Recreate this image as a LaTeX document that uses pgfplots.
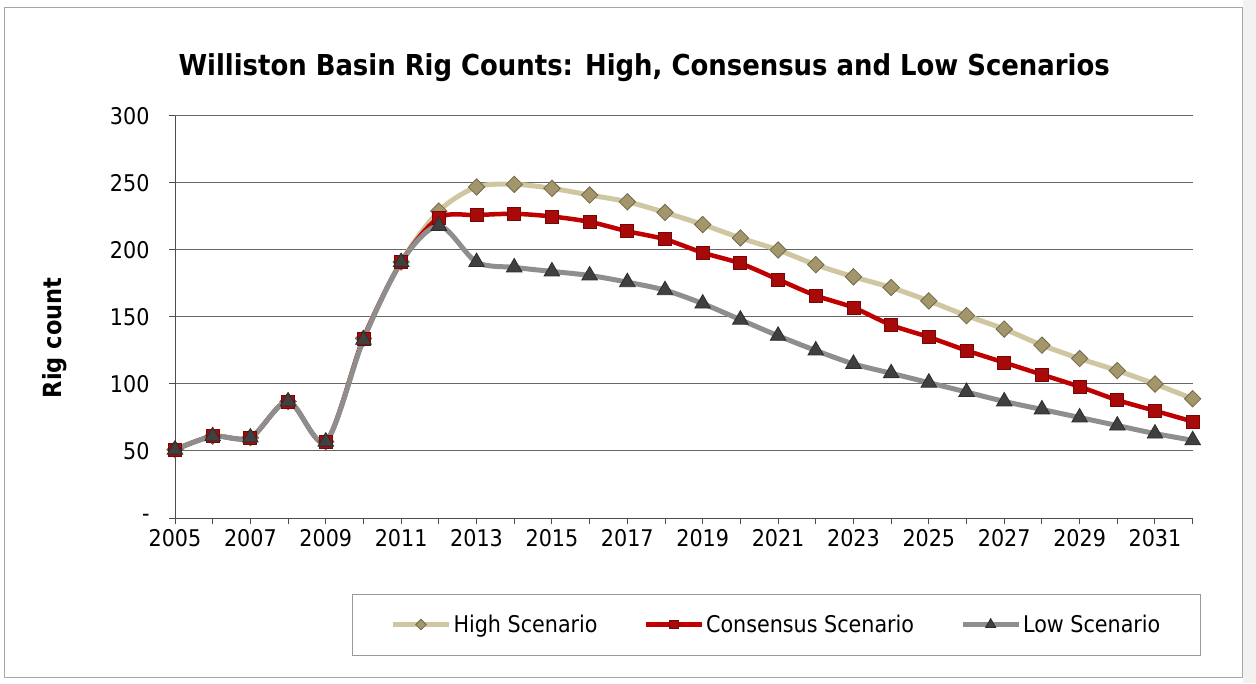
\documentclass[border=0pt]{standalone}
\usepackage{pgfplots}
\pgfplotsset{compat=1.18}
\usepackage{fontspec}
\setmainfont{DejaVu Sans Condensed}
\definecolor{hiline}{HTML}{CFC6A2}
\definecolor{himark}{HTML}{A2966A}
\definecolor{coline}{HTML}{C00000}
\definecolor{comark}{HTML}{A80A0A}
\definecolor{loline}{HTML}{8E8E8E}
\definecolor{lomark}{HTML}{404040}
\begin{document}
\begin{tikzpicture}
\useasboundingbox (0pt,0pt) rectangle (1256pt,683pt);
\fill[black!5] (1243pt,0pt) rectangle (1256pt,683pt);
\draw[black!35, line width=0.8pt] (4pt,6pt) rectangle (1242pt,676pt);
\begin{axis}[
  at={(175pt,165pt)}, anchor=south west,
  scale only axis, width=1017.7pt, height=402pt,
  xmin=2005, xmax=2032, ymin=0, ymax=300,
  axis x line*=bottom, axis y line*=left,
  axis line style={black!70, line width=1pt},
  xtick={2005,2007,...,2031},
  xticklabels={2005,2007,2009,2011,2013,2015,2017,2019,2021,2023,2025,2027,2029,2031},
  minor xtick={2006,2008,...,2032},
  ytick={0,50,...,300},
  yticklabels={-,50,100,150,200,250,300},
  tick align=outside, major tick length=6pt, minor tick length=6pt,
  tick style={black!70, line width=1pt},
  ymajorgrids, grid style={black!60, line width=1pt},
  tick label style={font=\fontsize{23}{27}\selectfont},
  xticklabel style={yshift=-2pt},
  yticklabel style={xshift=-16pt},
  title={Williston Basin Rig Counts: High, Consensus and Low Scenarios},
  title style={at={(0.461,1.105)}, anchor=center, font=\bfseries\fontsize{28.8}{33}\selectfont},
  every axis y label/.style={at={(-0.118,0.448)}, anchor=center, rotate=90, font=\bfseries\fontsize{25}{30}\selectfont},
  ylabel={Rig count},
  legend columns=3,
  legend style={at={(0.591,-0.265)}, anchor=center, draw=black!40, line width=0.8pt,
    font=\fontsize{23}{27}\selectfont, inner xsep=38pt, inner ysep=19pt,
    nodes={inner sep=2pt},
    /tikz/every even column/.append style={column sep=44pt}},
  legend image code/.code={\draw[#1, mark repeat=2, mark phase=2, every mark/.append style={scale=0.65}] plot coordinates {(0pt,0pt) (28pt,0pt) (56pt,0pt)};},
  every axis plot/.append style={smooth, tension=0.5},
]
\addplot[hiline, line width=5pt, mark=square*, mark size=5.8pt, mark options={rotate=45, fill=himark, draw=himark!70!black, line width=0.8pt}] coordinates {
(2005,51) (2006,61) (2007,60) (2008,87) (2009,57) (2010,134) (2011,191)
(2012,229) (2013,247) (2014,249) (2015,246) (2016,241) (2017,236) (2018,228)
(2019,219) (2020,209) (2021,200) (2022,189) (2023,180) (2024,172) (2025,162)
(2026,151) (2027,141) (2028,129) (2029,119) (2030,110) (2031,100) (2032,89)};
\addlegendentry{High Scenario}
\addplot[coline, line width=4.5pt, mark=square*, mark size=6.5pt, mark options={fill=comark, draw=comark!70!black, line width=0.8pt}] coordinates {
(2005,51) (2006,61) (2007,60) (2008,87) (2009,57) (2010,134) (2011,191)
(2012,224) (2013,226) (2014,227) (2015,225) (2016,221) (2017,214) (2018,208)
(2019,198) (2020,190) (2021,178) (2022,166) (2023,157) (2024,144) (2025,135)
(2026,125) (2027,116) (2028,107) (2029,98) (2030,88) (2031,80) (2032,72)};
\addlegendentry{Consensus Scenario}
\addplot[loline, line width=5pt, mark=triangle*, mark size=9pt, mark options={fill=lomark, draw=lomark!70!black, line width=0.8pt}] coordinates {
(2005,51) (2006,61) (2007,60) (2008,87) (2009,57) (2010,133) (2011,191)
(2012,218) (2013,191) (2014,187) (2015,184) (2016,181) (2017,176) (2018,170)
(2019,160) (2020,148) (2021,136) (2022,125) (2023,115) (2024,108) (2025,101)
(2026,94) (2027,87) (2028,81) (2029,75) (2030,69) (2031,63) (2032,58)};
\addlegendentry{Low Scenario}
\end{axis}
\end{tikzpicture}
\end{document}
